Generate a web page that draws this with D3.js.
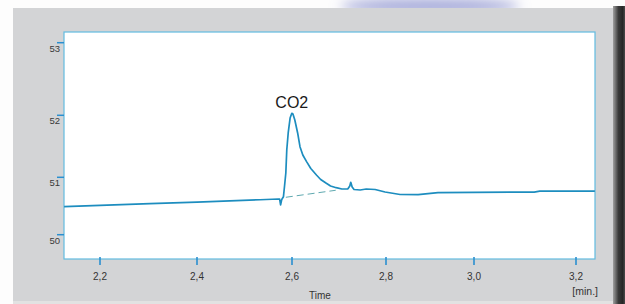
<!DOCTYPE html>
<html><head><meta charset="utf-8">
<script src="https://cdn.jsdelivr.net/npm/d3@7"></script>
<style>body{margin:0;background:#fff}svg{display:block}</style>
</head><body>
<svg id="c" width="625" height="304"></svg>
<script>
// ---- data ----
const xTicks = [2.2, 2.4, 2.6, 2.8, 3.0, 3.2];
const xTickLabels = ["2,2", "2,4", "2,6", "2,8", "3,0", "3,2"];
const yTicks = [50, 51, 52, 53];
const yTickLabels = ["50", "51", "52", "53"];
const time = [2.126, 2.200, 2.303, 2.400, 2.533, 2.571, 2.574, 2.576, 2.578, 2.579, 2.582, 2.5845, 2.587, 2.589, 2.592, 2.596, 2.5996, 2.602, 2.606, 2.612, 2.617, 2.623, 2.631, 2.640, 2.652, 2.661, 2.673, 2.682, 2.694, 2.706, 2.719, 2.723, 2.725, 2.728, 2.732, 2.745, 2.758, 2.777, 2.798, 2.832, 2.873, 2.918, 3.000, 3.118, 3.129, 3.237];
const signal = [50.488, 50.51, 50.542, 50.569, 50.609, 50.622, 50.62, 50.52, 50.60, 50.622, 50.662, 50.866, 51.069, 51.44, 51.715, 51.956, 52.028, 52.018, 51.924, 51.715, 51.494, 51.36, 51.252, 51.142, 51.037, 50.962, 50.896, 50.849, 50.819, 50.796, 50.80, 50.85, 50.913, 50.83, 50.787, 50.779, 50.796, 50.787, 50.744, 50.700, 50.697, 50.732, 50.739, 50.742, 50.76, 50.76];
const baseTime = [2.587, 2.693];
const baseSignal = [50.652, 50.774];
const peakName = "CO2";
const xTitle = "Time";
const xUnit = "[min.]";

// ---- layout ----
const svg = d3.select("#c");
const W = 625, H = 304;
const plot = {l: 64, t: 32, r: 595, b: 259};
const font = "'Liberation Sans', Arial, sans-serif";

const defs = svg.append("defs");
const sh = defs.append("linearGradient").attr("id", "shadow").attr("x1", 0).attr("x2", 1);
sh.append("stop").attr("offset", "0").attr("stop-color", "#a0a0a0");
sh.append("stop").attr("offset", "0.45").attr("stop-color", "#3a3a3a");
sh.append("stop").attr("offset", "0.8").attr("stop-color", "#262626");
sh.append("stop").attr("offset", "1").attr("stop-color", "#4a4a4a");
defs.append("filter").attr("id", "blur").attr("x", "-50%").attr("y", "-200%").attr("width", "200%").attr("height", "500%")
  .append("feGaussianBlur").attr("stdDeviation", 6);
defs.append("clipPath").attr("id", "clip").append("rect")
  .attr("x", plot.l).attr("y", plot.t).attr("width", plot.r - plot.l).attr("height", plot.b - plot.t);

// background decorations
svg.append("rect").attr("width", W).attr("height", H).attr("fill", "#fdfdfd");
svg.append("ellipse").attr("cx", 430).attr("cy", 6).attr("rx", 90).attr("ry", 8)
  .attr("fill", "#a9addb").attr("filter", "url(#blur)");
svg.append("rect").attr("x", 613).attr("y", 6).attr("width", 12).attr("height", H).attr("fill", "url(#shadow)");
svg.append("rect").attr("x", 13).attr("y", 8).attr("width", 600).attr("height", 293).attr("fill", "#d3d4d6");
svg.append("rect").attr("x", 13).attr("y", 301).attr("width", 600).attr("height", 3).attr("fill", "#e2e2e2");

// scales (piecewise, calibrated to the printed tick positions)
const x = d3.scaleLinear().domain(xTicks).range([100, 197, 292, 386, 474, 576]);
const y = d3.scaleLinear().domain(yTicks).range([234.7, 177.3, 115.3, 42.7]);

// plot area
svg.append("rect").attr("x", plot.l).attr("y", plot.t).attr("width", plot.r - plot.l).attr("height", plot.b - plot.t)
  .attr("fill", "#fff").attr("stroke", "#62bbe0").attr("stroke-width", 1.2);

// y ticks
const yg = svg.append("g");
yTicks.forEach((v, i) => {
  yg.append("line").attr("x1", plot.l - 7).attr("x2", plot.l).attr("y1", y(v)).attr("y2", y(v))
    .attr("stroke", "#2a8fd0").attr("stroke-width", 1.5);
  yg.append("text").attr("x", plot.l - 4).attr("y", y(v) + 9).attr("text-anchor", "end")
    .attr("font-family", font).attr("font-size", 9.5).attr("fill", "#3a3a3a").text(yTickLabels[i]);
});

// x ticks
const xg = svg.append("g");
xTicks.forEach((v, i) => {
  xg.append("line").attr("x1", x(v)).attr("x2", x(v)).attr("y1", plot.b - 2).attr("y2", plot.b + 6)
    .attr("stroke", "#2a8fd0").attr("stroke-width", 1.6);
  xg.append("text").attr("x", x(v)).attr("y", plot.b + 21).attr("text-anchor", "middle")
    .attr("font-family", font).attr("font-size", 10).attr("fill", "#333").text(xTickLabels[i]);
});
svg.append("text").attr("x", 320).attr("y", 299).attr("text-anchor", "middle")
  .attr("font-family", font).attr("font-size", 10).attr("fill", "#333").text(xTitle);
svg.append("text").attr("x", 598).attr("y", 294.5).attr("text-anchor", "end")
  .attr("font-family", font).attr("font-size", 10.5).attr("fill", "#333").text(xUnit);

// traces
const g = svg.append("g").attr("clip-path", "url(#clip)");
const line = d3.line().x(d => x(d[0])).y(d => y(d[1]));
g.append("path").attr("d", line(d3.zip(baseTime, baseSignal)))
  .attr("fill", "none").attr("stroke", "#5fa9b0").attr("stroke-width", 1).attr("stroke-dasharray", "7,4");
g.append("path").attr("d", line(d3.zip(time, signal)))
  .attr("fill", "none").attr("stroke", "#1d8dbf").attr("stroke-width", 1.7).attr("stroke-linejoin", "round");

// peak label
const iMax = d3.maxIndex(signal);
svg.append("text").attr("x", x(time[iMax])).attr("y", y(signal[iMax]) - 5.5).attr("text-anchor", "middle")
  .attr("font-family", font).attr("font-size", 16).attr("fill", "#1a1a1a").text(peakName);
</script>
</body></html>
